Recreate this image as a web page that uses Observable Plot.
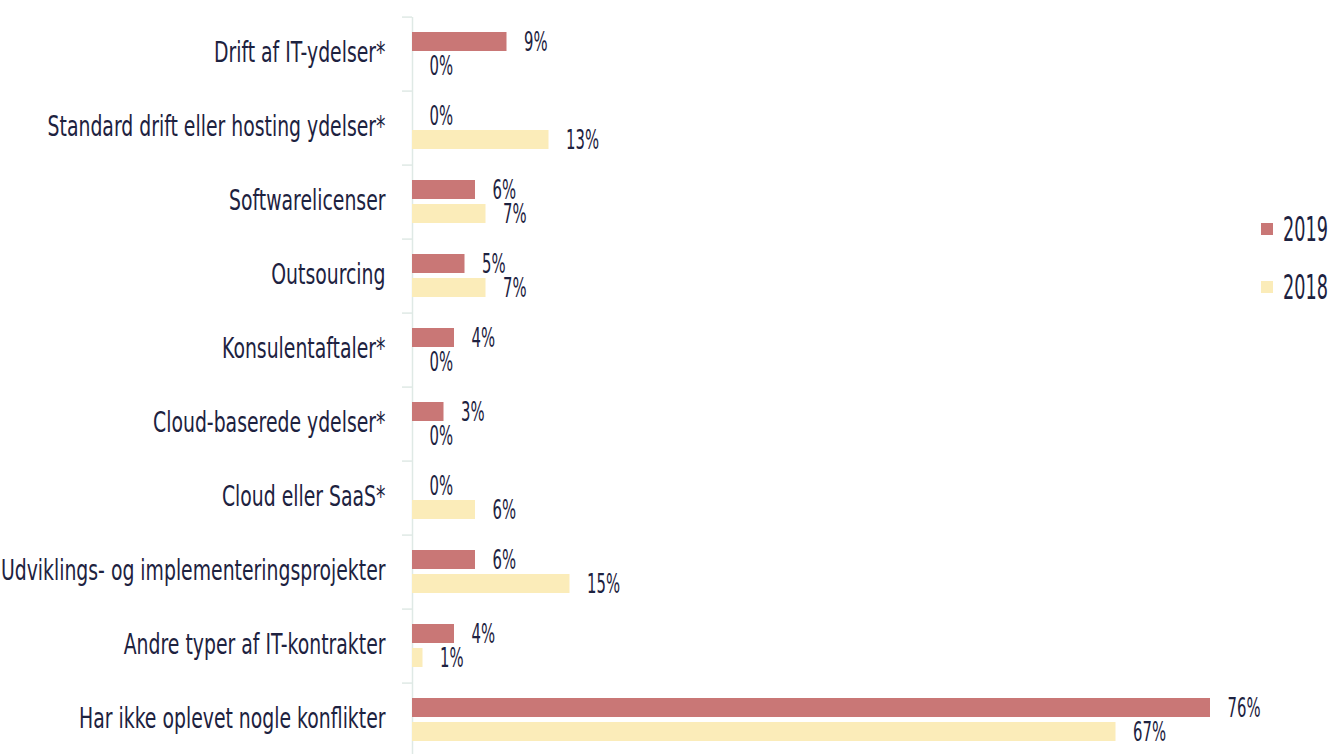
<!DOCTYPE html>
<html>
<head>
<meta charset="utf-8">
<script src="https://cdn.jsdelivr.net/npm/d3@7"></script>
<script src="https://cdn.jsdelivr.net/npm/@observablehq/plot@0.6"></script>
<style>
  html, body { margin: 0; padding: 0; background: #fff; overflow: hidden; }
  #wrap { position: relative; width: 1330px; height: 754px; }
  #legend { position: absolute; left: 1261px; top: 210px; font-family: "DejaVu Sans", sans-serif; color: #1d2240; }
  .item { display: flex; align-items: center; height: 38px; margin-bottom: 20px; font-size: 34px; }
  .sw { width: 12px; height: 12px; margin-right: 10px; flex: none; }
  .lab { display: inline-block; transform: scaleX(0.52); transform-origin: left center; white-space: nowrap; }
</style>
</head>
<body>
<div id="wrap"><div id="legend"></div></div>
<script>
const categories = [
  "Drift af IT-ydelser*",
  "Standard drift eller hosting ydelser*",
  "Softwarelicenser",
  "Outsourcing",
  "Konsulentaftaler*",
  "Cloud-baserede ydelser*",
  "Cloud eller SaaS*",
  "Udviklings- og implementeringsprojekter",
  "Andre typer af IT-kontrakter",
  "Har ikke oplevet nogle konflikter"
];
const years = ["2019", "2018"];
const values2019 = [9, 0, 6, 5, 4, 3, 0, 6, 4, 76];
const values2018 = [0, 13, 7, 7, 0, 0, 6, 15, 1, 67];
const colors = ["#c97776", "#fbecb9"];

const data = [];
categories.forEach((c, i) => {
  data.push({category: c, year: years[0], value: values2019[i]});
  data.push({category: c, year: years[1], value: values2018[i]});
});

const font = '"DejaVu Sans", sans-serif';
const textColor = "#1d2240";
const height = 762, marginTop = 13, marginBottom = 1;
const band = (height - marginTop - marginBottom) / categories.length;

const chart = Plot.plot({
  width: 1330,
  height,
  marginTop,
  marginBottom,
  marginLeft: 412,
  marginRight: 78,
  style: {fontFamily: font, color: textColor, background: "transparent", overflow: "visible"},
  x: {domain: [0, 80], axis: null},
  y: {domain: years, axis: null, paddingInner: 0.2, paddingOuter: 0.59},
  fy: {domain: categories, padding: 0},
  color: {domain: years, range: colors},
  marks: [
    Plot.ruleX([0], {stroke: "#dfe9e5", strokeWidth: 1.5}),
    Plot.axisFy({anchor: "left", text: null, tickSize: 10, stroke: "#dfe9e5", strokeWidth: 1.5, dy: -band / 2, label: null}),
    Plot.axisFy({anchor: "left", tickSize: 0, tickPadding: 27, dy: -2, fontSize: 29, fill: textColor, label: null}),
    Plot.barX(data, {x: "value", y: "year", fy: "category", fill: "year"}),
    Plot.text(data, {x: "value", y: "year", fy: "category", text: d => d.value + "%", textAnchor: "start", dx: 17, fontSize: 27, fill: textColor})
  ]
});
document.getElementById("wrap").prepend(chart);

// condense text horizontally around its anchor point
function condense(el, s) {
  const t = el.getAttribute("transform");
  if (t) {
    el.setAttribute("transform", t + ` scale(${s},1)`);
  } else {
    const x = +el.getAttribute("x") || 0;
    el.removeAttribute("x");
    el.setAttribute("transform", `translate(${x},0) scale(${s},1)`);
  }
}
d3.select(chart).selectAll("text").each(function() {
  const s = this.textContent;
  if (categories.includes(s)) condense(this, 0.65);
  else if (s.endsWith("%")) condense(this, 0.55);
});

const legend = document.getElementById("legend");
years.forEach((y, i) => {
  const item = document.createElement("div");
  item.className = "item";
  const sw = document.createElement("div");
  sw.className = "sw";
  sw.style.background = colors[i];
  const t = document.createElement("span");
  t.className = "lab";
  t.textContent = y;
  item.append(sw, t);
  legend.append(item);
});
</script>
</body>
</html>
